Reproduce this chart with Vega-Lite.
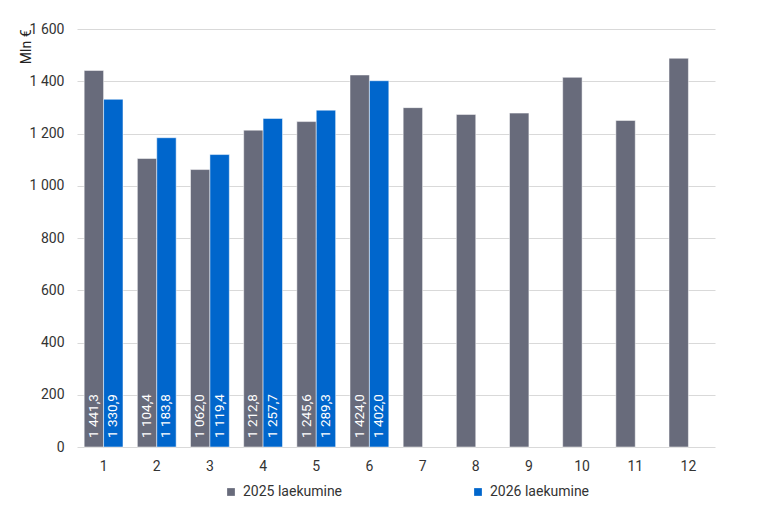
{
  "$schema": "https://vega.github.io/schema/vega-lite/v6.json",
  "width": 638,
  "height": 418,
  "autosize": {"type": "none"},
  "padding": {"left": 77, "top": 29, "right": 53, "bottom": 78},
  "background": "white",
  "data": {
    "values": [
      {"month": 1, "series": "2025 laekumine", "value": 1441.3},
      {"month": 2, "series": "2025 laekumine", "value": 1104.4},
      {"month": 3, "series": "2025 laekumine", "value": 1062.0},
      {"month": 4, "series": "2025 laekumine", "value": 1212.8},
      {"month": 5, "series": "2025 laekumine", "value": 1245.6},
      {"month": 6, "series": "2025 laekumine", "value": 1424.0},
      {"month": 7, "series": "2025 laekumine", "value": 1299},
      {"month": 8, "series": "2025 laekumine", "value": 1273},
      {"month": 9, "series": "2025 laekumine", "value": 1278},
      {"month": 10, "series": "2025 laekumine", "value": 1415},
      {"month": 11, "series": "2025 laekumine", "value": 1250},
      {"month": 12, "series": "2025 laekumine", "value": 1488},
      {"month": 1, "series": "2026 laekumine", "value": 1330.9},
      {"month": 2, "series": "2026 laekumine", "value": 1183.8},
      {"month": 3, "series": "2026 laekumine", "value": 1119.4},
      {"month": 4, "series": "2026 laekumine", "value": 1257.7},
      {"month": 5, "series": "2026 laekumine", "value": 1289.3},
      {"month": 6, "series": "2026 laekumine", "value": 1402.0}
    ]
  },
  "encoding": {
    "x": {
      "field": "month",
      "type": "ordinal",
      "title": null,
      "scale": {"paddingInner": 0.27, "paddingOuter": 0.135},
      "axis": {"labelAngle": 0, "ticks": false, "domain": false, "labelPadding": 12, "labelFontSize": 14}
    },
    "xOffset": {
      "field": "series",
      "type": "nominal",
      "scale": {"domain": ["2025 laekumine", "2026 laekumine"], "paddingInner": 0}
    }
  },
  "layer": [
    {
      "mark": {"type": "bar", "stroke": "white", "strokeWidth": 0.5},
      "encoding": {
        "y": {
          "field": "value",
          "type": "quantitative",
          "title": "Mln €",
          "scale": {"domain": [0, 1600]},
          "axis": {
            "values": [0, 200, 400, 600, 800, 1000, 1200, 1400, 1600],
            "format": ",.0f",
            "ticks": false,
            "domain": false,
            "labelPadding": 13,
            "labelFontSize": 14,
            "titleAnchor": "end",
            "titleX": -44,
            "titleFontSize": 14,
            "titleFontWeight": "normal",
            "gridColor": "#d9d9d9"
          }
        },
        "color": {
          "field": "series",
          "type": "nominal",
          "title": null,
          "scale": {"domain": ["2025 laekumine", "2026 laekumine"], "range": ["#686b7b", "#0066cc"]},
          "legend": {
            "orient": "none",
            "legendX": 147,
            "legendY": 456,
            "direction": "horizontal",
            "symbolType": "square",
            "symbolSize": 60,
            "symbolStrokeWidth": 0,
            "labelFontSize": 14,
            "columnPadding": 128,
            "labelOffset": 5
          }
        }
      }
    },
    {
      "transform": [{"filter": "datum.month <= 6"}],
      "mark": {"type": "text", "angle": 270, "align": "left", "baseline": "middle", "dx": 9, "color": "white", "fontSize": 13.5},
      "encoding": {
        "y": {"datum": 0, "type": "quantitative"},
        "text": {"field": "value", "type": "quantitative", "format": ",.1f"}
      }
    }
  ],
  "config": {
    "font": "Roboto",
    "locale": {"number": {"decimal": ",", "thousands": " ", "grouping": [3], "currency": ["", " €"]}},
    "view": {"stroke": null},
    "axis": {"labelColor": "#333333", "titleColor": "#222222", "labelFont": "Roboto", "titleFont": "Roboto"},
    "legend": {"labelColor": "#333333", "labelFont": "Roboto"}
  }
}
